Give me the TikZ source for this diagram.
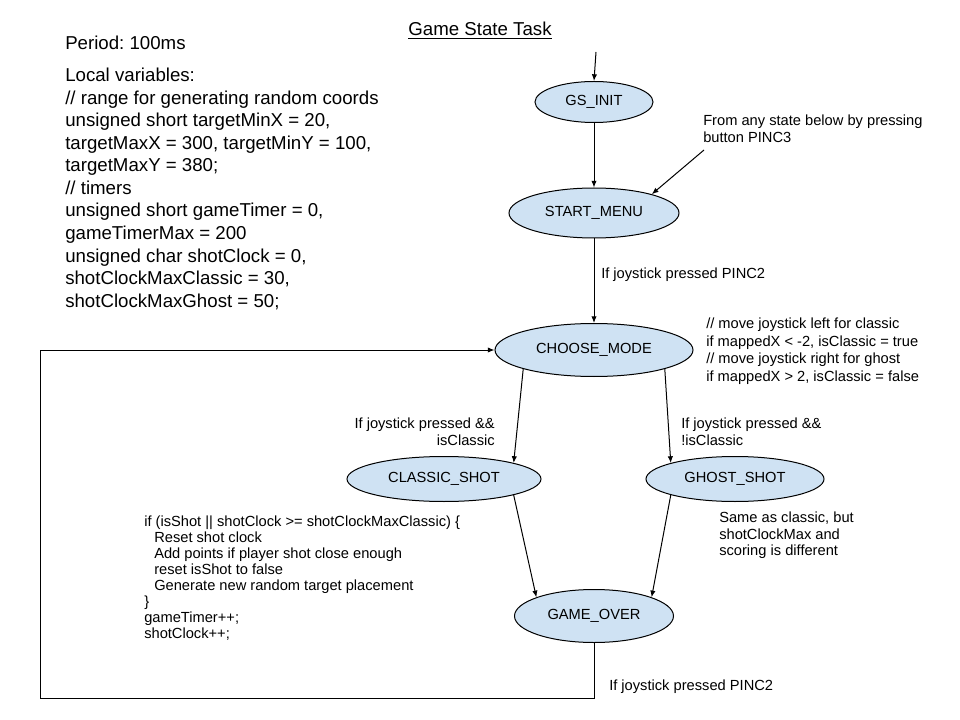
\documentclass[tikz,border=0pt]{standalone}
\usepackage{fontspec}
\setmainfont{Liberation Sans}
\usepackage{tikz}
\usetikzlibrary{shapes.geometric, arrows.meta}
\definecolor{stateblue}{HTML}{CFE2F3}
\frenchspacing

\begin{document}
\begin{tikzpicture}[x=0.75pt, y=-0.75pt,
        state/.style={ellipse, draw, fill=stateblue, line width=0.75pt, inner sep=0pt, font=\fontsize{11}{13}\selectfont},
        note/.style={inner sep=0pt, align=left, font=\fontsize{11}{12.4}\selectfont},
        big/.style={inner sep=0pt, align=left, font=\fontsize{14}{16.9}\selectfont},
        arr/.style={-{Latex[length=5pt, width=4pt]}, line width=0.75pt}]
        \useasboundingbox (0,0) rectangle (960,720);

        \node[state, minimum width=88.5pt, minimum height=30.75pt] (init) at (594,102) {GS\_INIT};
        \node[state, minimum width=127.5pt, minimum height=37.5pt] (menu) at (594,213) {START\_MENU};
        \node[state, minimum width=148.5pt, minimum height=39.75pt] (choose) at (594,350) {CHOOSE\_MODE};
        \node[state, minimum width=145.5pt, minimum height=33.75pt] (classic) at (444,479) {CLASSIC\_SHOT};
        \node[state, minimum width=133.5pt, minimum height=33.75pt] (ghost) at (735,479) {GHOST\_SHOT};
        \node[state, minimum width=119.25pt, minimum height=39.75pt] (over) at (594,616) {GAME\_OVER};

        \coordinate (entry) at (596,52);
        \coordinate (anystate) at (704,150);
        \coordinate (loop) at (40,698);

        \draw[arr] (entry) -- (init.north);
        \draw[arr] (init) -- (menu);
        \draw[arr] (anystate) -- (menu.18);
        \draw[arr] (menu) -- (choose);
        \draw[arr] (choose.195) -- (classic.13);
        \draw[arr] (choose.-15) -- (ghost.166);
        \draw[arr] (classic.-13) -- (over.162);
        \draw[arr] (ghost.194) -- (over.18);
        \draw[arr] (over.south) |- (loop) |- (choose.west);

        \node[big, anchor=base] (title) at (480,36) {\underline{Game State Task}};
        \node[big, anchor=north west] (period) at (65,36) {Period: 100ms};
        \node[big, anchor=north west] (vars) at (65,68) {Local variables:\\// range for generating random coords\\unsigned short targetMinX = 20,\\targetMaxX = 300, targetMinY = 100,\\targetMaxY = 380;\\// timers\\unsigned short gameTimer = 0,\\gameTimerMax = 200\\unsigned char shotClock = 0,\\shotClockMaxClassic = 30,\\shotClockMaxGhost = 50;};

        \node[note, anchor=north west] (anynote) at (703,114.6) {From any state below by pressing\\button PINC3};
        \node[note, anchor=north west] (press1) at (601,267.6) {If joystick pressed PINC2};
        \node[note, anchor=north west, font=\fontsize{11}{13.3}\selectfont] (modenote) at (706,317.6) {// move joystick left for classic\\if mappedX < -2, isClassic = true\\// move joystick right for ghost\\if mappedX > 2, isClassic = false};
        \node[note, anchor=north east, align=right] (classiccond) at (495,417.6) {If joystick pressed \&\&\\isClassic};
        \node[note, anchor=north west] (ghostcond) at (681,417.6) {If joystick pressed \&\&\\!isClassic};
        \node[note, anchor=north west] (ghostnote) at (719,511.6) {Same as classic, but\\shotClockMax and\\scoring is different};
        \node[note, anchor=north west, font=\fontsize{11}{12}\selectfont] (code) at (144,515.6) {if (isShot || shotClock >= shotClockMaxClassic) \{\\\hspace*{7.5pt}Reset shot clock\\\hspace*{7.5pt}Add points if player shot close enough\\\hspace*{7.5pt}reset isShot to false\\\hspace*{7.5pt}Generate new random target placement\\\}\\gameTimer++;\\shotClock++;};
        \node[note, anchor=north west] (press2) at (609,679.6) {If joystick pressed PINC2};
    \end{tikzpicture}
\end{document}
